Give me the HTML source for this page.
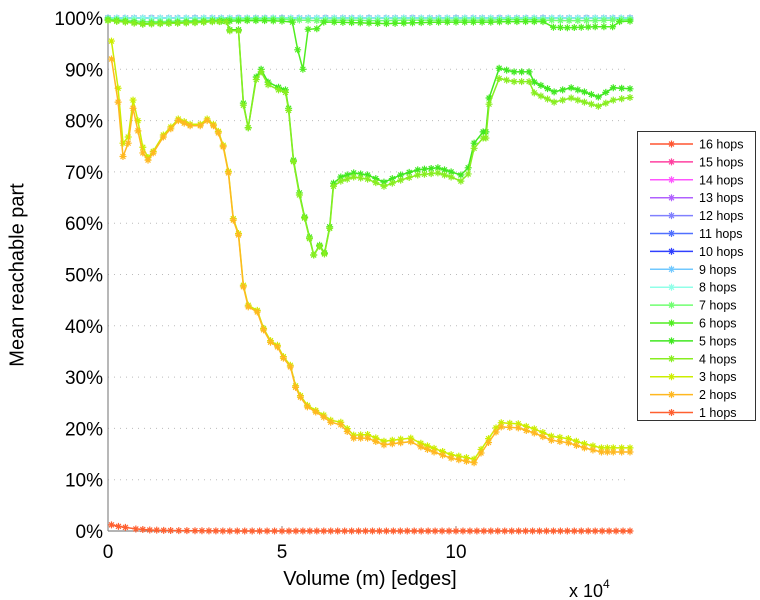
<!DOCTYPE html>
<html><head><meta charset="utf-8">
<style>
html,body{margin:0;padding:0;background:#fff;}
svg{display:block;font-family:"Liberation Sans",sans-serif;}
</style></head>
<body>
<svg id="chart" width="760" height="600" viewBox="0 0 760 600">
  <g id="grid"></g>
  <g id="axes"></g>
  <g id="series"></g>
  <text x="18" y="275" transform="rotate(-90 18 275)" text-anchor="middle" font-size="20" dominant-baseline="middle">Mean reachable part</text>
  <text x="370" y="585" text-anchor="middle" font-size="20">Volume (m) [edges]</text>
  <text x="569" y="597" font-size="18">x 10<tspan dy="-9" font-size="12">4</tspan></text>
  <g id="legend"></g>
</svg>
<script>
// ---- data ----
const yTicks = [0,10,20,30,40,50,60,70,80,90,100];
const xTicks = [0,5,10];
const seriesNames = ["16 hops","15 hops","14 hops","13 hops","12 hops","11 hops","10 hops","9 hops","8 hops","7 hops","6 hops","5 hops","4 hops","3 hops","2 hops","1 hops"];
const seriesColors = ["#ff5530","#ff40a0","#ff55ff","#b060ff","#8080ff","#5070ff","#3040ff","#70c8ff","#90ffe8","#70ff70","#50ee20","#40e820","#88ee20","#ccee00","#ffb820","#ff6030"];
const xsFlat = [0,0.5,1,1.5,2,2.5,3,3.5,4,4.5,5,5.5,6,6.5,7,7.5,8,8.5,9,9.5,10,10.5,11,11.5,12,12.5,13,13.5,14,14.5,15];
const vFlat  = [100,100,100,100,100,100,100,100,100,100,100,100,100,100,100,100,100,100,100,100,100,100,100,100,100,100,100,100,100,100,100];
const x7 = [0,0.5,1,1.5,2,2.5,3,3.5,4,4.5,5,5.5,6,6.5,7,7.5,8,8.5,9,9.5,10,10.5,11,11.5,12,12.5,13,13.5,14,14.5,15];
const v7 = [99.8,99.6,99.3,99.3,99.4,99.5,99.6,99.7,99.8,99.8,99.8,99.6,99.5,99.6,99.6,99.5,99.5,99.6,99.6,99.6,99.6,99.6,99.6,99.7,99.7,99.6,99.5,99.5,99.5,99.6,99.7];
const x6 = [0,0.5,1,1.5,2,2.5,3,3.5,4,4.5,5,5.3,5.45,5.6,5.75,6.0,6.2,6.5,7,7.5,8,8.5,9,9.5,10,10.5,11,11.5,12,12.5,12.8,13.2,13.6,14,14.5,14.7,15];
const v6 = [99.6,99.3,98.8,98.9,99.0,99.1,99.3,99.4,99.5,99.5,99.4,99.2,93.8,90.0,97.8,97.9,99.2,99.2,99.1,99.0,98.9,99.0,99.1,99.2,99.2,99.2,99.2,99.3,99.3,99.3,98.2,98.1,98.2,98.3,98.3,99.3,99.4];
const x5 = [0,0.5,1,1.5,2,2.5,3,3.4,3.5,3.75,3.89,4.03,4.26,4.4,4.6,4.9,5.1,5.19,5.33,5.5,5.65,5.79,5.91,6.08,6.22,6.37,6.48,6.69,7.06,7.46,7.93,8.41,8.9,9.48,9.86,10.14,10.35,10.52,10.78,10.86,10.95,11.24,11.67,12.1,12.25,12.82,13.31,13.69,14.09,14.52,15];
const v5 = [99.6,99.3,98.9,99.0,99.1,99.2,99.4,99.4,97.7,97.7,83.4,78.6,88.5,90.0,87.5,86.5,86.0,82.4,72.3,65.9,61.2,57.3,53.8,55.7,54.2,59.3,67.8,69.0,69.8,69.4,68.0,69.4,70.4,70.8,70.0,69.4,70.8,75.6,77.8,77.8,84.4,90.2,89.5,89.5,87.5,85.6,86.4,85.6,84.6,86.4,86.2];
const x4 = [0,0.5,1,1.5,2,2.5,3,3.4,3.5,3.75,3.89,4.03,4.26,4.4,4.6,4.9,5.1,5.19,5.33,5.5,5.65,5.79,5.91,6.08,6.22,6.37,6.48,6.69,7.06,7.46,7.93,8.41,8.9,9.48,9.86,10.14,10.35,10.52,10.78,10.86,10.95,11.24,11.67,12.1,12.25,12.82,13.31,13.69,14.09,14.52,15];
const v4 = [99.5,99.2,98.8,98.9,99.0,99.1,99.3,99.3,97.5,97.5,83.0,78.6,88.0,89.5,87.0,86.0,85.5,82.0,72.0,65.5,61.0,57.0,53.8,55.5,54.0,59.0,67.2,68.2,69.0,68.6,67.2,68.4,69.4,69.8,69.0,68.2,69.6,74.6,76.6,76.6,83.2,88.2,87.6,87.6,85.4,83.6,84.4,83.6,82.8,84.0,84.5];
const x3 = [0.1,0.29,0.43,0.58,0.72,0.86,1.0,1.15,1.3,1.59,2.02,2.36,2.65,2.85,3.03,3.17,3.31,3.46,3.6,3.75,3.89,4.03,4.29,4.47,4.67,4.87,5.04,5.24,5.39,5.53,5.73,5.97,6.2,6.4,6.69,7.06,7.46,7.93,8.41,8.7,8.99,9.37,9.86,10.52,10.72,11.15,11.3,11.79,12.25,12.74,13.23,13.69,14.18,14.52,15];
const v3 = [95.5,86.3,75.6,76.8,84.0,80.0,74.8,72.8,74.0,77.2,80.3,79.3,79.3,80.3,79.3,77.9,75.2,70.1,60.9,58.0,47.9,44.0,43.0,39.5,37.1,36.2,34.0,32.3,28.3,26.4,24.5,23.5,22.6,21.6,21.2,18.7,18.8,17.5,17.9,18.1,17.1,16.1,14.9,14.0,15.9,20.1,21.1,20.9,19.9,18.5,18.0,17.0,16.2,16.2,16.2];
const x2 = [0.1,0.29,0.43,0.58,0.72,0.86,1.0,1.15,1.3,1.59,2.02,2.36,2.65,2.85,3.03,3.17,3.31,3.46,3.6,3.75,3.89,4.03,4.29,4.47,4.67,4.87,5.04,5.24,5.39,5.53,5.73,5.97,6.2,6.4,6.69,7.06,7.46,7.93,8.41,8.7,8.99,9.37,9.86,10.52,10.72,11.15,11.3,11.79,12.25,12.74,13.23,13.69,14.18,14.52,15];
const v2 = [92.0,83.6,73.0,75.6,82.4,78.0,73.7,72.3,73.7,76.8,80.0,79.0,79.0,80.0,79.0,77.6,74.9,69.8,60.6,57.7,47.6,43.7,42.7,39.2,36.8,35.9,33.7,32.0,28.0,26.1,24.2,23.2,22.2,21.2,20.7,18.1,18.1,16.8,17.2,17.4,16.4,15.4,14.2,13.3,15.2,19.3,20.3,20.1,19.1,17.7,17.2,16.2,15.4,15.4,15.4];
const x1 = [0.1,0.3,0.5,0.8,1.2,1.8,2.5,3.5,5,7,9,11,13,15];
const v1 = [1.2,0.9,0.7,0.4,0.2,0.1,0.05,0,0,0,0,0,0,0];

// ---- scales ----
const X0=108, X1=630, Y0=531, Y1=18;
const sx = v => X0 + (v/15)*(X1-X0);
const sy = v => Y0 - (v/100)*(Y0-Y1);
const NS="http://www.w3.org/2000/svg";
function mk(tag, attrs, parent){const e=document.createElementNS(NS,tag);for(const k in attrs)e.setAttribute(k,attrs[k]);parent.appendChild(e);return e;}

const grid=document.getElementById('grid'), axes=document.getElementById('axes');
yTicks.forEach(t=>{
  if(t>0){
    const gl=mk('line',{x1:X0,x2:X1,y1:sy(t),y2:sy(t),stroke:'#bbb','stroke-dasharray':'1 5','stroke-width':1},grid);
    
    
  }
  const tl=mk('text',{x:103,y:sy(t)+7,'text-anchor':'end','font-size':19},axes);
  tl.textContent=t+'%';
  
  
});
xTicks.forEach(t=>{
  const tk=mk('line',{x1:sx(t),x2:sx(t),y1:Y0,y2:Y0-5,stroke:'#888'},axes);
  
  
  const tl=mk('text',{x:sx(t),y:558,'text-anchor':'middle','font-size':19},axes);
  tl.textContent=t;
  
  
});
const ya=mk('line',{x1:X0,x2:X0,y1:Y1-2,y2:Y0,stroke:'#888','stroke-width':1.2},axes);


const xa=mk('line',{x1:X0,x2:X1,y1:Y0,y2:Y0,stroke:'#888','stroke-width':1.2},axes);



function star(g,x,y,c,r){
  const d=`M${x-r} ${y}H${x+r}M${x} ${y-r}V${y+r}M${x-r*0.7} ${y-r*0.7}L${x+r*0.7} ${y+r*0.7}M${x-r*0.7} ${y+r*0.7}L${x+r*0.7} ${y-r*0.7}`;
  return mk('path',{d:d,stroke:c,'stroke-width':1.2,fill:'none'},g);
}
const seriesX=[xsFlat,xsFlat,xsFlat,xsFlat,xsFlat,xsFlat,xsFlat,xsFlat,xsFlat,x7,x6,x5,x4,x3,x2,x1];
const seriesV=[vFlat,vFlat,vFlat,vFlat,vFlat,vFlat,vFlat,vFlat,vFlat,v7,v6,v5,v4,v3,v2,v1];
const sg=document.getElementById('series');
seriesNames.forEach((n,i)=>{
  const g=mk('g',{},sg);
  
  
  const xs=seriesX[i], vs=seriesV[i], c=seriesColors[i];
  const pts=xs.map((x,j)=>sx(x).toFixed(1)+','+sy(vs[j]).toFixed(1)).join(' ');
  const pl=mk('polyline',{points:pts,fill:'none',stroke:c,'stroke-width':1.5},g);
  
  
  // markers at data points and midpoints of segments for density
  xs.forEach((x,j)=>{
    const m=star(g,sx(x),sy(vs[j]),c,3.5);
    
    
    if(j<xs.length-1){
      const steps=Math.max(0,Math.round((sx(xs[j+1])-sx(x))/7)-1);
      for(let k=1;k<=steps;k++){
        const f=k/(steps+1);
        const mm=star(g,sx(x)+(sx(xs[j+1])-sx(x))*f,sy(vs[j])+(sy(vs[j+1])-sy(vs[j]))*f,c,3.5);
        
        
      }
    }
  });
});

// legend
const lg=document.getElementById('legend');
const box=mk('rect',{x:637.5,y:131.5,width:118,height:289,fill:'#fff',stroke:'#333','stroke-width':1},lg);


seriesNames.forEach((n,i)=>{
  const y=144+i*17.9;
  const e=mk('g',{},lg);
  
  
  mk('line',{x1:650,x2:693,y1:y,y2:y,stroke:seriesColors[i],'stroke-width':1.5},e);
  star(e,671.5,y,seriesColors[i],3.5);
  const t=mk('text',{x:699,y:y+4.5,'font-size':12.5},e);
  t.textContent=n;
});
</script>
</body></html>
